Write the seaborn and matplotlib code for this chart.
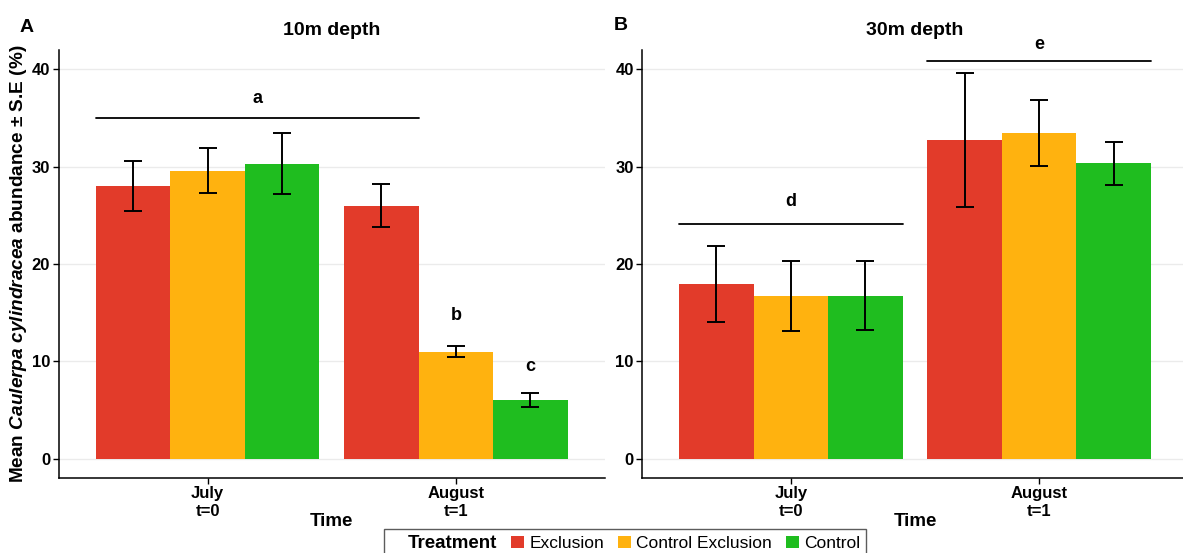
import pandas as pd
import matplotlib
matplotlib.use('Agg')
import matplotlib.pyplot as plt
import seaborn as sns
from matplotlib.patches import Patch

# dane
times = ['July\nt=0', 'August\nt=1']
treatments = ['Exclusion', 'Control Exclusion', 'Control']
colors = ['#E23B2A', '#FFB20F', '#1FBD1F']

mean_10m = [[28.0, 26.0], [29.6, 11.0], [30.3, 6.0]]
se_10m = [[2.6, 2.2], [2.3, 0.55], [3.15, 0.7]]
mean_30m = [[17.95, 32.75], [16.75, 33.5], [16.75, 30.35]]
se_30m = [[3.9, 6.85], [3.6, 3.4], [3.55, 2.2]]

letters_10m = ['a', 'b', 'c']
letters_30m = ['d', 'e']

sns.set_theme(style='white')
plt.rcParams['font.family'] = ['Liberation Sans', 'DejaVu Sans']
plt.rcParams['mathtext.fontset'] = 'custom'
plt.rcParams['mathtext.it'] = 'Liberation Sans:bold:italic'
plt.rcParams['mathtext.bfit'] = 'Liberation Sans:bold:italic'
plt.rcParams['mathtext.rm'] = 'Liberation Sans:bold'
plt.rcParams['mathtext.bf'] = 'Liberation Sans:bold'
for key in ['text.color', 'axes.labelcolor', 'xtick.color', 'ytick.color']:
    plt.rcParams[key] = 'black'


def make_df(means, ses):
    rows = []
    for i, tr in enumerate(treatments):
        for j, t in enumerate(times):
            rows.append({'Time': t, 'Treatment': tr, 'mean': means[i][j], 'se': ses[i][j]})
    return pd.DataFrame(rows)


def draw_panel(ax, df, title):
    sns.barplot(data=df, x='Time', y='mean', hue='Treatment', order=times,
                hue_order=treatments, palette=colors, width=0.9, linewidth=0,
                errorbar=None, ax=ax, legend=False, saturation=1)
    for i, tr in enumerate(treatments):
        sub = df[df['Treatment'] == tr].set_index('Time').loc[times]
        for bar, m, s in zip(ax.containers[i], sub['mean'], sub['se']):
            xc = bar.get_x() + bar.get_width() / 2
            ax.errorbar(xc, m, yerr=s, color='black', lw=1.4, capsize=6.5, capthick=1.4)
    ax.set_xlim(0.4 - 1, 2.6 - 1)
    ax.set_ylim(-2, 42)
    ax.set_yticks([0, 10, 20, 30, 40])
    ax.grid(axis='y', color='#EBEBEB', lw=1)
    ax.set_axisbelow(True)
    for sp in ['top', 'right']:
        ax.spines[sp].set_visible(False)
    for sp in ['left', 'bottom']:
        ax.spines[sp].set_color('black')
        ax.spines[sp].set_linewidth(1.1)
    ax.tick_params(axis='both', length=4, width=1, color='black', labelsize=12, pad=2,
                   left=True, bottom=True, labelcolor='black')
    for lab in ax.get_xticklabels() + ax.get_yticklabels():
        lab.set_fontweight('bold')
    ax.set_xlabel('Time', fontsize=13.5, fontweight='bold', labelpad=-4)
    ax.set_title(title, fontsize=14, fontweight='bold', pad=11)


fig = plt.figure(figsize=(11.83, 5.53), dpi=100)
axA = fig.add_axes([58.5 / 1183, 75 / 553, 546.5 / 1183, 428 / 553])
axB = fig.add_axes([642 / 1183, 75 / 553, 546 / 1183, 428 / 553])

draw_panel(axA, make_df(mean_10m, se_10m), '10m depth')
draw_panel(axB, make_df(mean_30m, se_30m), '30m depth')

axA.set_ylabel(r'Mean $\mathit{Caulerpa\ cylindracea}$ abundance ± S.E (%)',
               fontsize=13.7, fontweight='bold', labelpad=2)
axB.set_ylabel('')

# linie i litery istotności (x w jednostkach kategorii: 0 = July, 1 = August)
axA.plot([-0.45, 0.85], [35, 35], color='black', lw=1.3)
axA.text(0.2, 37, letters_10m[0], ha='center', va='center', fontsize=13, fontweight='bold')
axA.text(1.0, 14.7, letters_10m[1], ha='center', va='center', fontsize=13, fontweight='bold')
axA.text(1.3, 9.5, letters_10m[2], ha='center', va='center', fontsize=13, fontweight='bold')

axB.plot([-0.45, 0.45], [24.15, 24.15], color='black', lw=1.3)
axB.text(0.0, 26.4, letters_30m[0], ha='center', va='center', fontsize=13, fontweight='bold')
axB.plot([0.55, 1.45], [40.9, 40.9], color='black', lw=1.3, clip_on=False)
axB.text(1.0, 42.6, letters_30m[1], ha='center', va='center', fontsize=13,
         fontweight='bold', clip_on=False)

fig.text(27 / 1183, 1 - 27 / 553, 'A', fontsize=14, fontweight='bold', ha='center', va='center')
fig.text(621 / 1183, 1 - 26 / 553, 'B', fontsize=14, fontweight='bold', ha='center', va='center')

# legenda z tytułem po lewej
handles = [Patch(facecolor='none', edgecolor='none')] + \
          [Patch(facecolor=c, edgecolor='none') for c in colors]
labels = ['Treatment'] + treatments
leg = fig.legend(handles, labels, ncol=4, loc='upper center',
                 bbox_to_anchor=(625 / 1183, 1 - 529 / 553), fontsize=12.5,
                 frameon=True, fancybox=False, edgecolor='#333333',
                 handlelength=0.75, handleheight=0.75, handletextpad=0.3,
                 columnspacing=0.8, borderpad=0.35, borderaxespad=0)
leg.get_frame().set_linewidth(1.0)
leg.get_texts()[0].set_fontweight('bold')
leg.get_texts()[0].set_fontsize(13.5)

fig.savefig('out.png', dpi=100)
